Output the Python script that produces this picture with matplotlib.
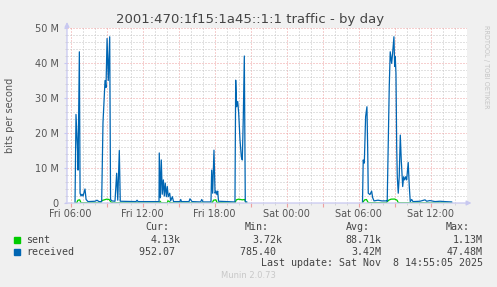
import numpy as np
import matplotlib
matplotlib.use("Agg")
import matplotlib.pyplot as plt
from matplotlib.patches import Rectangle

# hours since Fri 00:00, values in Mbit/s (nan = no data)
recv_hours = [6.36, 6.44, 6.57, 6.61, 6.72, 6.78, 6.86, 6.94, 7.03, 7.19, 7.28, 7.44, 8.03, 8.19, 8.36,
              8.58, 8.69, 8.86, 8.94, 9.03, 9.13, 9.25, 9.32, 9.44, 9.69, 9.83, 9.92, 10.05, 10.13,
              11.44, 11.53, 11.61, 13.36, 13.38, 13.47, 13.55, 13.63, 13.72, 13.80, 13.88, 13.97,
              14.05, 14.13, 14.25, 14.33, 14.47, 14.57, 15.11, 15.17, 15.23, 15.86, 15.94, 16.11,
              16.83, 16.92, 17.03, 17.69, 17.75, 17.83, 17.94, 18.03, 18.11, 18.19, 18.25, 18.32,
              19.69, 19.75, 19.83, 19.92, 20.00, 20.11, 20.22, 20.30, 20.38, 20.47, 20.55, 20.67,
              25.0,
              30.32, 30.38, 30.47, 30.58, 30.69, 30.75, 30.80, 30.94, 31.08, 31.17, 31.28, 31.61,
              31.94, 32.33, 32.38, 32.55, 32.63, 32.75, 32.83, 32.94, 33.00, 33.05, 33.11, 33.17,
              33.22, 33.30, 33.38, 33.47, 33.55, 33.67, 33.75, 33.83, 33.92, 34.00, 34.13, 34.22,
              34.30, 34.42, 34.53, 35.11, 35.53, 35.67, 35.94, 36.36, 36.78, 37.19, 37.75]
recv_vals = [0.3, 25.3, 15.0, 9.4, 43.2, 2.8, 2.0, 2.5, 2.0, 4.0, 1.0, 0.4, 0.5, 0.8, 0.4,
             0.4, 23.0, 35.0, 33.0, 47.0, 35.0, 47.5, 1.0, 0.6, 0.5, 8.5, 0.8, 15.0, 0.5,
             0.4, 0.8, 0.4, 0.4, 14.3, 1.5, 12.3, 2.5, 6.6, 2.0, 5.7, 1.8,
             4.7, 1.8, 2.8, 0.6, 1.8, 0.4, 0.4, 1.0, 0.4, 0.4, 1.2, 0.4,
             0.3, 1.0, 0.3, 0.3, 9.4, 2.8, 15.1, 2.8, 3.4, 2.4, 3.4, 0.5,
             0.3, 35.1, 27.5, 29.0, 25.7, 18.0, 13.2, 12.3, 23.7, 42.0, 0.4, 0.3,
             np.nan,
             0.3, 12.3, 11.4, 24.7, 27.5, 16.0, 2.8, 2.4, 3.4, 1.5, 0.6, 0.8,
             0.6, 0.6, 0.5, 33.2, 43.2, 39.9, 42.8, 47.5, 39.0, 41.8, 37.0, 16.0,
             7.5, 2.8, 7.5, 19.4, 12.3, 4.7, 7.5, 6.6, 7.5, 6.6, 11.6, 4.7,
             0.4, 1.0, 0.4, 0.5, 0.9, 0.5, 0.7, 0.4, 0.5, 0.4, 0.3]

sent_hours = [6.36, 6.5, 6.6, 6.75, 6.85, 7.0, 8.5, 8.6, 8.8, 9.0, 9.2, 9.35, 9.5, 13.4, 13.45, 13.55,
              14.05, 14.1, 14.2, 14.3, 17.8, 17.9, 18.1, 18.2, 19.7, 19.8, 20.0, 20.3, 20.5, 20.6, 20.67,
              25.0,
              30.32, 30.5, 30.65, 30.8, 32.3, 32.5, 32.7, 33.0, 33.2, 33.3, 33.5, 37.75]
sent_vals = [0.02, 0.05, 0.8, 0.9, 0.1, 0.05, 0.05, 0.7, 0.9, 1.1, 1.0, 0.3, 0.05, 0.05, 0.5, 0.05,
             0.05, 0.6, 0.5, 0.05, 0.05, 0.8, 0.9, 0.1, 0.05, 0.9, 1.1, 0.9, 1.0, 0.1, 0.05,
             np.nan,
             0.05, 0.9, 1.0, 0.1, 0.05, 0.8, 1.1, 1.13, 0.8, 0.1, 0.05, 0.03]

tick_hours = [6, 9, 12, 15, 18, 21, 24, 27, 30, 33, 36]
tick_labels = ["Fri 06:00", "", "Fri 12:00", "", "Fri 18:00", "", "Sat 00:00", "", "Sat 06:00", "", "Sat 12:00"]
ytick_vals = [0, 10, 20, 30, 40, 50]
ytick_labels = ["0", "10 M", "20 M", "30 M", "40 M", "50 M"]

legend_rows = [("sent", "#00cc00", "4.13k", "3.72k", "88.71k", "1.13M"),
               ("received", "#0066b3", "952.07 ", "785.40 ", "3.42M", "47.48M")]

W, H = 497, 287
fig = plt.figure(figsize=(W / 100, H / 100), dpi=100, facecolor="#f0f0f0")


def fx(px):
    return px / W


def fy(py):
    return 1 - py / H


ax = fig.add_axes([fx(67), fy(203), fx(400), 175 / H])
ax.set_facecolor("white")
txt = "#555555"
axis_col = "#c8c8f0"

ax.set_xlim(5.69, 39.03)
ax.set_ylim(0, 50)
ax.set_xticks(tick_hours)
ax.set_xticklabels(tick_labels)
ax.set_xticks(np.arange(6, 39, 1), minor=True)
ax.set_yticks(ytick_vals)
ax.set_yticklabels(ytick_labels)
ax.set_yticks(np.arange(0, 51, 2), minor=True)
ax.grid(which="minor", color="#c4c4c4", linestyle=(0, (1, 2)), linewidth=0.72)
ax.grid(which="major", color="#eea0a0", linestyle=(0, (1, 2)), linewidth=0.72)
ax.set_axisbelow(True)
ax.tick_params(which="major", axis="x", length=3, color="#eea0a0", labelsize=7, labelcolor=txt, pad=1.5)
ax.tick_params(which="major", axis="y", length=2, color=axis_col, labelsize=7, labelcolor=txt, pad=4)
ax.tick_params(which="minor", length=1.5, color="#d0d0d0")
for s in ax.spines.values():
    s.set_visible(False)

ax.plot(sent_hours, sent_vals, color="#00cc00", linewidth=0.9)
ax.plot(recv_hours, recv_vals, color="#0066b3", linewidth=0.9)

# axes with arrows
ax.annotate("", xy=(1.018, 0), xytext=(-0.01, 0), xycoords="axes fraction",
            arrowprops=dict(arrowstyle="-|>", color=axis_col, lw=0.9, mutation_scale=7))
ax.annotate("", xy=(0, 1.05), xytext=(0, -0.01), xycoords="axes fraction",
            arrowprops=dict(arrowstyle="-|>", color=axis_col, lw=0.9, mutation_scale=7))

fig.text(fx(250), fy(19), "2001:470:1f15:1a45::1:1 traffic - by day", ha="center", va="center",
         fontsize=9.5, color="#444444")
fig.text(fx(10), fy(115), "bits per second", rotation=90, ha="center", va="center", fontsize=7, color=txt)
fig.text(fx(486), fy(25), "RRDTOOL / TOBI OETIKER", rotation=270, ha="center", va="top",
         fontsize=4.7, color="#c4c4c4")

mono = dict(family="DejaVu Sans Mono", fontsize=7.2, color="#444444", va="center")
for hx, h in zip([157, 257, 358, 458], ["Cur:", "Min:", "Avg:", "Max:"]):
    fig.text(fx(hx), fy(227), h, ha="center", **mono)
col_ends = [181, 282.3, 381.7, 482.7]
for i, (name, col, cur, mn, avg, mx) in enumerate(legend_rows):
    yy = 240 + i * 11.7
    fig.add_artist(Rectangle((fx(14), fy(yy + 3)), fx(6), 6 / H, color=col, transform=fig.transFigure))
    fig.text(fx(26.5), fy(yy), name, ha="left", **mono)
    for xe, v in zip(col_ends, [cur, mn, avg, mx]):
        fig.text(fx(xe), fy(yy), v, ha="right", **mono)
fig.text(fx(482.7), fy(263.3), "Last update: Sat Nov  8 14:55:05 2025", ha="right", **mono)
fig.text(fx(248), fy(276), "Munin 2.0.73", ha="center", va="center", fontsize=6, color="#c8c8c8")

fig.savefig("out.png", dpi=100, facecolor=fig.get_facecolor())
